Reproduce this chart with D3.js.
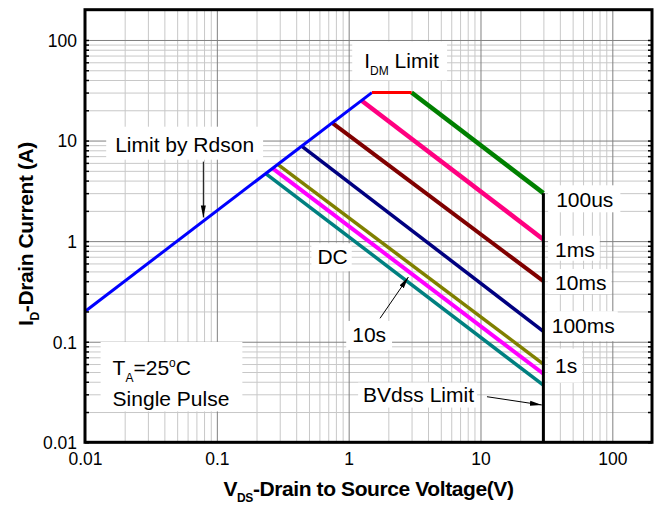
<!DOCTYPE html>
<html><head><meta charset="utf-8">
<script src="https://cdn.jsdelivr.net/npm/d3@7"></script>
<style>
html,body{margin:0;padding:0;background:#fff;}
svg{display:block;font-family:"Liberation Sans",Arial,Helvetica,sans-serif;}
</style></head><body>
<svg id="chart" width="659" height="506"></svg>
<script>
// ---------- data ----------
const xTickValues = [0.01, 0.1, 1, 10, 100];
const xTickLabels = ["0.01", "0.1", "1", "10", "100"];
const yTickValues = [0.01, 0.1, 1, 10, 100];
const yTickLabels = ["0.01", "0.1", "1", "10", "100"];

const rdsonV = [0.01, 1.5];
const rdsonI = [0.2, 30];
const idmV = [1.5, 3];
const idmI = [30, 30];
const bvdssV = [30, 30];
const bvdssI = [3, 0.01];

const pulseNames  = ["100us", "1ms", "10ms", "100ms", "1s", "10s", "DC"];
const pulseStartV = [3, 1.25, 0.75, 0.44, 0.29, 0.265, 0.235];
const pulseStartI = [30, 25, 15, 8.8, 5.8, 5.3, 4.7];
const pulseEndV   = [30, 30, 30, 30, 30, 30, 30];
const pulseEndI   = [3, 1.04, 0.40, 0.127, 0.060, 0.048, 0.037];

// ---------- styles ----------
const pulseColors = ["#008000", "#ff0080", "#800000", "#000080", "#808000", "#ff00ff", "#008080"];
const pulseWidths = [4.5, 4.5, 4, 3.5, 3.5, 4, 3.5];

const W = 659, H = 506;
const margin = {left: 85, right: 7, top: 9.7, bottom: 63.7};
const pw = W - margin.left - margin.right;
const ph = H - margin.top - margin.bottom;

const svg = d3.select("#chart");
const x = d3.scaleLog().domain([0.01, 200]).range([margin.left, margin.left + pw]);
const y = d3.scaleLog().domain([0.01, 200]).range([margin.top + ph, margin.top]);

const isMajor = v => Math.abs(Math.log10(v) - Math.round(Math.log10(v))) < 1e-9;
const allX = x.ticks().filter(v => v < 199);
const allY = y.ticks().filter(v => v < 199);

// ---------- grid ----------
const gridG = svg.append("g");
function gridX(vals, color) {
  const g = gridG.append("g").attr("transform", `translate(0,${margin.top + ph})`)
    .call(d3.axisBottom(x).tickValues(vals).tickSize(-ph).tickFormat(""));
  g.select(".domain").remove();
  g.selectAll("line").attr("stroke", color).attr("stroke-width", 1);
}
function gridY(vals, color) {
  const g = gridG.append("g").attr("transform", `translate(${margin.left},0)`)
    .call(d3.axisLeft(y).tickValues(vals).tickSize(-pw).tickFormat(""));
  g.select(".domain").remove();
  g.selectAll("line").attr("stroke", color).attr("stroke-width", 1);
}
gridX(allX.filter(v => !isMajor(v)), "#c8c8c8");
gridY(allY.filter(v => !isMajor(v)), "#c8c8c8");
gridX(allX.filter(isMajor), "#808080");
gridY(allY.filter(isMajor), "#808080");

// ---------- layers ----------
const boxG = svg.append("g");
const lineG = svg.append("g");
const textG = svg.append("g");
const arrowG = svg.append("g");

// ---------- lines ----------
const lineGen = d3.line().x(d => x(d[0])).y(d => y(d[1]));
function seg(vs, is, color, w) {
  lineG.append("path")
    .attr("d", lineGen(vs.map((v, i) => [v, is[i]])))
    .attr("fill", "none").attr("stroke", color).attr("stroke-width", w)
    .attr("stroke-linecap", "butt");
}
for (let k = pulseNames.length - 1; k >= 0; k--) {
  seg([pulseStartV[k], pulseEndV[k]], [pulseStartI[k], pulseEndI[k]], pulseColors[k], pulseWidths[k]);
}
seg(rdsonV, rdsonI, "#0000ff", 3);
seg(idmV, idmI, "#ff0000", 3);
seg(bvdssV, bvdssI, "#000000", 3);

// ---------- labels ----------
function addText(parts, vx, vy, anchor, pad) {
  const t = textG.append("text")
    .attr("x", x(vx)).attr("y", y(vy))
    .attr("text-anchor", anchor)
    .attr("font-size", 21).attr("fill", "#000");
  let shift = 0;
  parts.forEach(p => {
    const s = t.append("tspan").text(p.t);
    let target = 0, size = 21;
    if (p.sub) { target = 7; size = 12; }
    if (p.sup) { target = -8; size = 12; }
    s.attr("font-size", size);
    if (target - shift !== 0) s.attr("dy", target - shift);
    shift = target;
  });
  if (pad) {
    const b = t.node().getBBox();
    boxG.append("rect")
      .attr("x", b.x - pad[0]).attr("y", b.y - pad[1])
      .attr("width", b.width + pad[0] + pad[2]).attr("height", b.height + pad[1] + pad[3])
      .attr("fill", "#fff");
  }
  return t;
}

addText([{t: "Limit by Rdson"}], 0.057, 7.75, "middle", [9, 6, 9, 4]);
addText([{t: "I"}, {t: "DM", sub: true}, {t: " Limit"}], 2.52, 52.3, "middle", [12, 8, 8, 2]);
addText([{t: pulseNames[0]}], 37.5, 2.17, "start", [8, 3, 7, 1]);
addText([{t: pulseNames[1]}], 36.8, 0.70, "start", [7, 2, 5, 0]);
addText([{t: pulseNames[2]}], 36.8, 0.327, "start", [7, 2, 5, 0]);
addText([{t: pulseNames[3]}], 34.7, 0.1215, "start", [5, 3, 3, 4]);
addText([{t: pulseNames[4]}], 36.8, 0.0493, "start", [7, 5, 5, 6]);
addText([{t: "BVdss Limit"}], 3.39, 0.0254, "middle", [5, 0, 3, 2]);
addText([{t: pulseNames[6]}], 0.755, 0.589, "middle", [6, 2, 4, 3]);
addText([{t: pulseNames[5]}], 1.43, 0.0995, "middle", [6, 2, 6, 4]);

const ta1 = addText([{t: "T"}, {t: "A", sub: true}, {t: "=25"}, {t: "o", sup: true}, {t: "C"}], 0.0162, 0.0468, "start", null);
const ta2 = addText([{t: "Single Pulse"}], 0.0162, 0.023, "start", null);
{
  const b1 = ta1.node().getBBox(), b2 = ta2.node().getBBox();
  const x0 = Math.min(b1.x, b2.x) - 12, x1 = Math.max(b1.x + b1.width, b2.x + b2.width) + 13;
  const y0 = b1.y - 14, y1 = b2.y + b2.height + 1.5;
  boxG.append("rect").attr("x", x0).attr("y", y0).attr("width", x1 - x0).attr("height", y1 - y0).attr("fill", "#fff");
}

// ---------- arrows ----------
const defs = svg.append("defs");
defs.append("marker").attr("id", "ah").attr("viewBox", "0 -3 12 6")
  .attr("refX", 12).attr("refY", 0).attr("markerWidth", 12).attr("markerHeight", 6)
  .attr("markerUnits", "userSpaceOnUse").attr("orient", "auto")
  .append("path").attr("d", "M0,-2.5L12,0L0,2.5Z").attr("fill", "#000");
function arrow(v0, i0, v1, i1) {
  arrowG.append("line")
    .attr("x1", x(v0)).attr("y1", y(i0)).attr("x2", x(v1)).attr("y2", y(i1))
    .attr("stroke", "#000").attr("stroke-width", 1).attr("marker-end", "url(#ah)");
}
arrow(0.079, 6.17, 0.079, 1.72);
arrow(1.73, 0.171, 2.84, 0.44);
arrow(11.2, 0.0284, 29.2, 0.0235);

// ---------- inner ticks ----------
const tl = svg.append("g").attr("transform", `translate(${margin.left},0)`)
  .call(d3.axisRight(y).tickValues(allY).tickSize(4).tickFormat(""));
tl.select(".domain").remove();
tl.selectAll("line").attr("stroke", "#000").attr("stroke-width", 1.5);
const tr = svg.append("g").attr("transform", `translate(${margin.left + pw},0)`)
  .call(d3.axisLeft(y).tickValues(allY).tickSize(4).tickFormat(""));
tr.select(".domain").remove();
tr.selectAll("line").attr("stroke", "#000").attr("stroke-width", 1.5);

// ---------- frame ----------
svg.append("rect").attr("x", margin.left).attr("y", margin.top)
  .attr("width", pw).attr("height", ph)
  .attr("fill", "none").attr("stroke", "#000").attr("stroke-width", 3);

// ---------- axes labels ----------
const ax = svg.append("g").attr("transform", `translate(0,${margin.top + ph})`)
  .call(d3.axisBottom(x).tickValues(xTickValues).tickSize(0).tickPadding(0)
    .tickFormat((d, i) => xTickLabels[i]));
ax.select(".domain").remove();
ax.selectAll("text").attr("font-family", "'Liberation Sans',Arial,sans-serif")
  .attr("font-size", 17.5).attr("fill", "#000").attr("dy", null).attr("y", 23);

const ay = svg.append("g").attr("transform", `translate(${margin.left},0)`)
  .call(d3.axisLeft(y).tickValues(yTickValues).tickSize(0).tickPadding(0)
    .tickFormat((d, i) => yTickLabels[i]));
ay.select(".domain").remove();
ay.selectAll("text").attr("font-family", "'Liberation Sans',Arial,sans-serif")
  .attr("font-size", 17.5).attr("fill", "#000").attr("x", -8).attr("dy", "0.36em");

// x title
const xt = svg.append("text").attr("x", margin.left + pw / 2).attr("y", 496)
  .attr("text-anchor", "middle").attr("font-weight", "bold").attr("font-size", 21)
  .attr("letter-spacing", -0.4);
xt.append("tspan").text("V");
xt.append("tspan").text("DS").attr("font-size", 12).attr("dy", 6);
xt.append("tspan").text("-Drain to Source Voltage(V)").attr("dy", -6);

// y title
const yt = svg.append("text").attr("transform", "translate(33,234) rotate(-90)")
  .attr("text-anchor", "middle").attr("font-weight", "bold").attr("font-size", 21)
  .attr("letter-spacing", -0.4);
yt.append("tspan").text("I");
yt.append("tspan").text("D").attr("font-size", 12).attr("dy", 6);
yt.append("tspan").text("-Drain Current (A)").attr("dy", -6);
</script>
</body></html>
